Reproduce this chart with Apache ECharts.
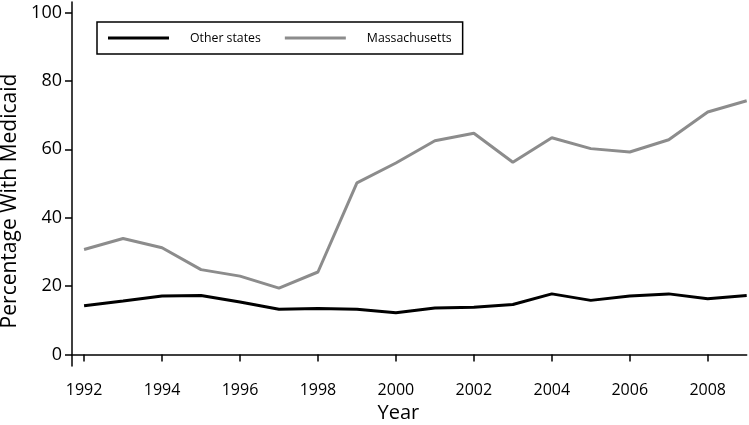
<!DOCTYPE html>
<html>
<head>
<meta charset="utf-8">
<script src="https://cdn.jsdelivr.net/npm/echarts@6/dist/echarts.min.js"></script>
<style>
html,body{margin:0;padding:0;background:#fff;}
#chart{width:749px;height:425px;}
</style>
</head>
<body>
<div id="chart"></div>
<script>
var years = [1992,1993,1994,1995,1996,1997,1998,1999,2000,2001,2002,2003,2004,2005,2006,2007,2008,2009];
var otherStates = [14.2,15.6,17.1,17.2,15.3,13.2,13.4,13.2,12.2,13.6,13.8,14.6,17.7,15.8,17.1,17.7,16.3,17.2];
var massachusetts = [30.7,33.9,31.2,24.8,22.9,19.4,24.1,50.2,56.0,62.5,64.7,56.2,63.4,60.2,59.2,62.8,70.9,74.2];
var xTicks = [1992,1994,1996,1998,2000,2002,2004,2006,2008];
var yTicks = [0,20,40,60,80,100];

function pairs(vals){ return years.map(function(y,i){ return [y, vals[i]]; }); }

var font = 'Open Sans';
var chart = echarts.init(document.getElementById('chart'), null, {renderer:'canvas'});
chart.setOption({
  animation: false,
  backgroundColor: '#fff',
  textStyle: {fontFamily: font},
  grid: {left: 72, top: 2, right: 2.3, bottom: 59, containLabel: false, outerBoundsMode: 'none'},
  legend: {
    left: 97, top: 22,
    orient: 'horizontal',
    borderColor: '#000', borderWidth: 1.5, borderRadius: 0,
    padding: [10, 11, 10, 11],
    itemWidth: 61, itemHeight: 3, itemGap: 24,
    icon: 'rect',
    textStyle: {fontFamily: font, fontSize: 12.3, color: '#000', padding: [0, 0, 0, 16]},
    data: ['Other states', 'Massachusetts']
  },
  xAxis: {
    type: 'value', min: 1991.69, max: 2009.0,
    name: 'Year', nameLocation: 'middle', nameGap: 35,
    nameTextStyle: {fontFamily: font, fontSize: 20, color: '#000', padding: [0, 22, 0, 0]},
    axisLine: {show: true, lineStyle: {color: '#000', width: 1.5}},
    axisTick: {show: true, inside: false, length: 7, lineStyle: {color: '#000', width: 1.5}, customValues: xTicks},
    axisLabel: {fontFamily: font, fontSize: 16, color: '#000', margin: 16, customValues: xTicks,
      formatter: function(v){ return String(v); }},
    splitLine: {show: false}
  },
  yAxis: {
    type: 'value', min: -3.4, max: 103.1,
    name: 'Percentage With Medicaid', nameLocation: 'middle', nameGap: 48, nameRotate: 90,
    nameTextStyle: {fontFamily: font, fontSize: 21, color: '#000', padding: [0, 34, 0, 0]},
    axisLine: {show: true, lineStyle: {color: '#000', width: 1.5}},
    axisTick: {show: true, inside: false, length: 7, lineStyle: {color: '#000', width: 1.5}, customValues: yTicks},
    axisLabel: {fontFamily: font, fontSize: 18, color: '#000', margin: 10, customValues: yTicks},
    splitLine: {show: false}
  },
  series: [
    {name: 'Other states', type: 'line', data: pairs(otherStates), symbol: 'none',
     lineStyle: {color: '#000', width: 3}, itemStyle: {color: '#000'}, clip: false},
    {name: 'Massachusetts', type: 'line', data: pairs(massachusetts), symbol: 'none',
     lineStyle: {color: '#8c8c8c', width: 3}, itemStyle: {color: '#8c8c8c'}, clip: false}
  ]
});
</script>
</body>
</html>
